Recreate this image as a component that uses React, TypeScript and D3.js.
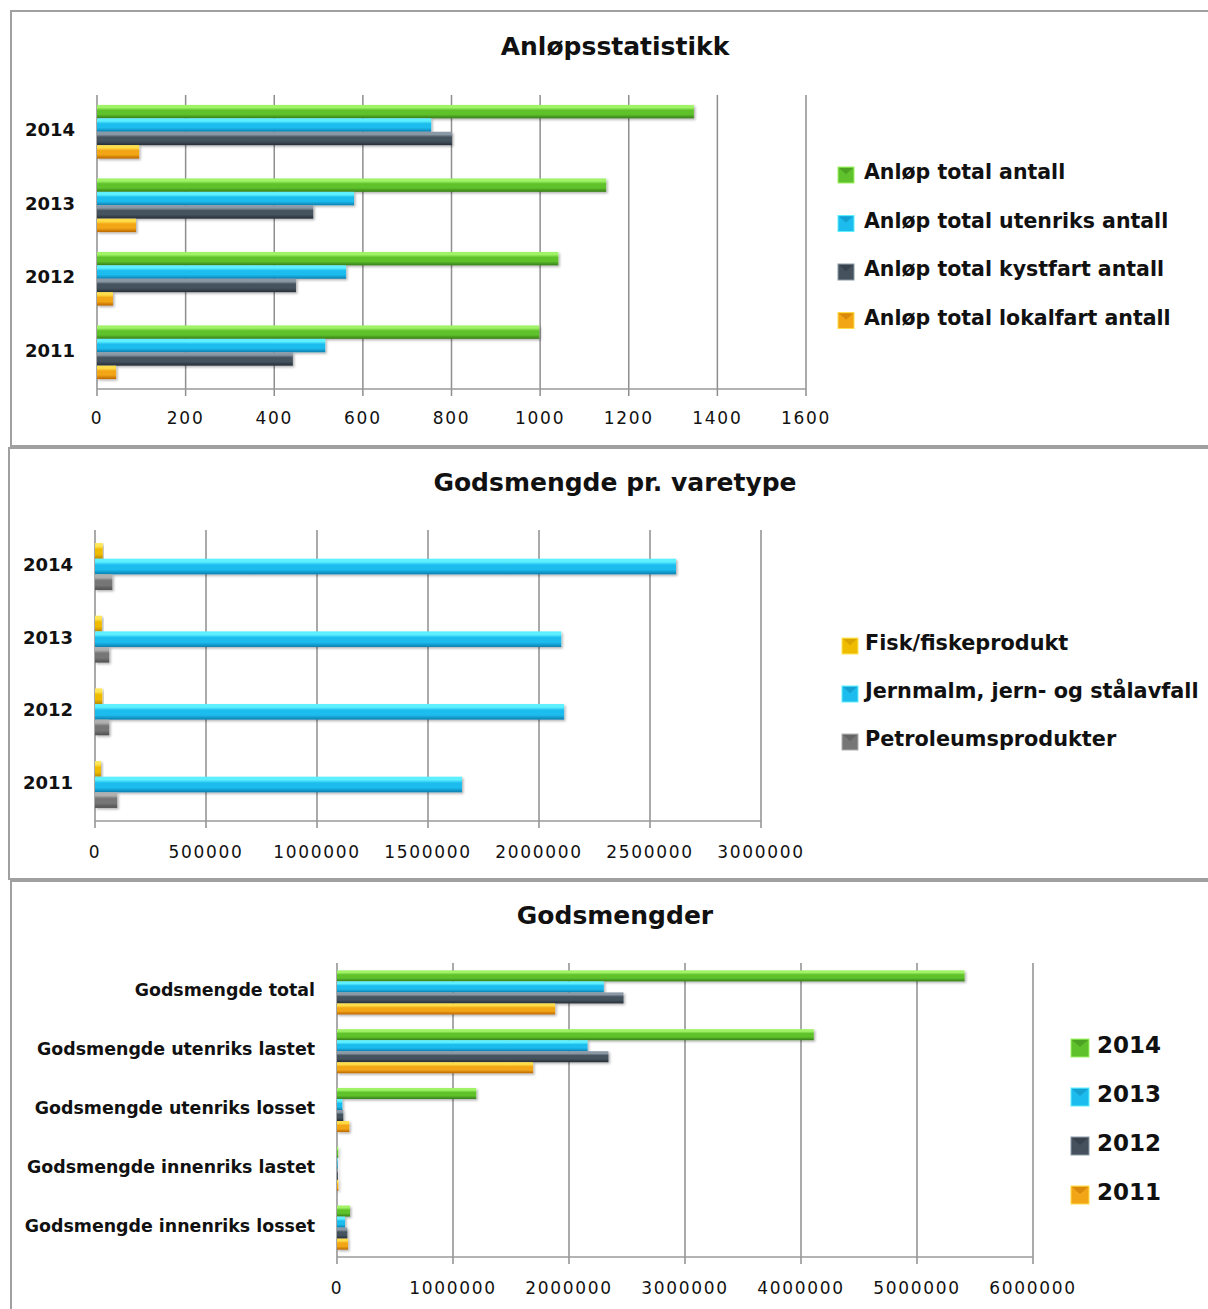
import React, { useEffect, useRef } from 'react';
import * as d3 from 'd3';

const years = ['2014', '2013', '2012', '2011'];

// Anløpsstatistikk
const anlopSeries = [
  'Anløp total antall',
  'Anløp total utenriks antall',
  'Anløp total kystfart antall',
  'Anløp total lokalfart antall',
];
const anlopTotal = [1347, 1149, 1041, 998];
const anlopUtenriks = [754, 580, 562, 515];
const anlopKystfart = [801, 488, 449, 442];
const anlopLokalfart = [95, 88, 36, 43];
const anlopTicks = [0, 200, 400, 600, 800, 1000, 1200, 1400, 1600];

// Godsmengde pr. varetype
const vareSeries = ['Fisk/fiskeprodukt', 'Jernmalm, jern- og stålavfall', 'Petroleumsprodukter'];
const fisk = [35000, 31000, 33000, 27000];
const jernmalm = [2617000, 2100000, 2113000, 1653000];
const petroleum = [78000, 64000, 64000, 100000];
const vareTicks = [0, 500000, 1000000, 1500000, 2000000, 2500000, 3000000];

// Godsmengder
const godsCategories = [
  'Godsmengde total',
  'Godsmengde utenriks lastet',
  'Godsmengde utenriks losset',
  'Godsmengde innenriks lastet',
  'Godsmengde innenriks losset',
];
const godsSeries = ['2014', '2013', '2012', '2011'];
const gods2014 = [5410000, 4110000, 1200000, 11000, 112000];
const gods2013 = [2300000, 2160000, 46000, 6000, 69000];
const gods2012 = [2470000, 2340000, 54000, 8000, 89000];
const gods2011 = [1880000, 1690000, 106000, 12000, 95000];
const godsTicks = [0, 1000000, 2000000, 3000000, 4000000, 5000000, 6000000];

// light / base / dark
const palette = {
  green: ['#a0f266', '#5fc22c', '#367d18'],
  blue: ['#5ef0ff', '#1cbdee', '#0a7fb0'],
  slate: ['#8a99a5', '#45525e', '#252e37'],
  orange: ['#ffdc48', '#f2a616', '#bb6600'],
  yellow: ['#ffe658', '#f0bc00', '#bc8a00'],
  gray: ['#b0b0b0', '#767676', '#505050'],
};

const FONT = "'DejaVu Sans', Verdana, sans-serif";

const drawChart = (svg, c) => {
  const g = svg.append('g');
  const max = c.ticks[c.ticks.length - 1];
  const x = d3.scaleLinear().domain([0, max]).range(c.xRange);
  const y0 = d3.scaleBand().domain(c.categories).range(c.yRange)
    .paddingInner(c.padIn).paddingOuter(c.padOut);
  const y1 = d3.scaleBand().domain(c.series).range([0, y0.bandwidth()]);
  const bottom = c.yRange[1];

  // title
  g.append('text')
    .attr('x', 615).attr('y', c.titleY)
    .attr('text-anchor', 'middle').attr('dominant-baseline', 'central')
    .attr('font-family', FONT).attr('font-weight', 'bold').attr('font-size', 25)
    .attr('fill', '#111').text(c.title);

  // grid + ticks
  g.selectAll('line.grid').data(c.ticks).join('line')
    .attr('x1', d => x(d)).attr('x2', d => x(d))
    .attr('y1', c.yRange[0]).attr('y2', bottom + 7)
    .attr('stroke', '#8e8e8e').attr('stroke-width', 1.5);
  g.append('line')
    .attr('x1', x(0)).attr('x2', x(max)).attr('y1', bottom).attr('y2', bottom)
    .attr('stroke', '#9a9a9a').attr('stroke-width', 1.5);

  g.selectAll('text.tick').data(c.ticks).join('text')
    .attr('x', d => x(d)).attr('y', c.tickY)
    .attr('text-anchor', 'middle').attr('dominant-baseline', 'central')
    .attr('font-family', FONT).attr('font-size', 17).attr('letter-spacing', 1.7)
    .attr('fill', '#111').text(d => String(d));

  // category labels
  g.selectAll('text.cat').data(c.categories).join('text')
    .attr('x', c.labelX).attr('y', d => y0(d) + y0.bandwidth() / 2 - 2)
    .attr('text-anchor', 'end').attr('dominant-baseline', 'central')
    .attr('font-family', FONT).attr('font-weight', 'bold').attr('font-size', c.labelSize)
    .attr('fill', '#111').text(d => d);

  // bars
  c.series.forEach((s, i) => {
    const col = c.colors[i];
    g.append('g').attr('filter', 'url(#shadow)')
      .selectAll('rect').data(c.values[i]).join('rect')
      .attr('x', x(0))
      .attr('y', (d, j) => y0(c.categories[j]) + y1(s))
      .attr('width', d => Math.max(0, x(d) - x(0)))
      .attr('height', y1.bandwidth())
      .attr('fill', `url(#grad-${col})`);
  });

  // legend
  const L = c.legend;
  c.series.forEach((s, i) => {
    const col = palette[c.colors[i]];
    const base = L.y + i * L.step;
    const mx = L.x, my = base - L.size + 4;
    const lg = g.append('g');
    lg.append('rect').attr('x', mx).attr('y', my).attr('width', L.size).attr('height', L.size)
      .attr('fill', col[1]).attr('stroke', col[0]).attr('stroke-width', 1);
    lg.append('path')
      .attr('d', `M${mx + 1},${my + 1}L${mx + L.size / 2},${my + L.size * 0.45}L${mx + L.size - 1},${my + 1}Z`)
      .attr('fill', col[2]).attr('opacity', 0.45);
    lg.append('text').attr('x', L.textX).attr('y', base)
      .attr('font-family', FONT).attr('font-weight', 'bold').attr('font-size', L.fontSize)
      .attr('fill', '#111').text(s);
  });
};

const App = () => {
  const ref = useRef(null);

  useEffect(() => {
    const svg = d3.select(ref.current);
    svg.selectAll('*').remove();

    const defs = svg.append('defs');
    Object.entries(palette).forEach(([key, [light, base, dark]]) => {
      const grad = defs.append('linearGradient').attr('id', `grad-${key}`)
        .attr('x1', 0).attr('y1', 0).attr('x2', 0).attr('y2', 1);
      grad.append('stop').attr('offset', '0%').attr('stop-color', light);
      grad.append('stop').attr('offset', '20%').attr('stop-color', light);
      grad.append('stop').attr('offset', '40%').attr('stop-color', base);
      grad.append('stop').attr('offset', '70%').attr('stop-color', base);
      grad.append('stop').attr('offset', '100%').attr('stop-color', dark);
    });
    defs.append('filter').attr('id', 'shadow')
      .attr('x', '-5%').attr('y', '-30%').attr('width', '120%').attr('height', '180%')
      .append('feDropShadow')
      .attr('dx', 1.5).attr('dy', 1.5).attr('stdDeviation', 1.2)
      .attr('flood-color', '#000').attr('flood-opacity', 0.3);

    // panel frames
    const frames = [
      [11, 11, 1230, 435],
      [9, 448, 1230, 431],
      [11, 881, 1230, 460],
    ];
    svg.selectAll('rect.frame').data(frames).join('rect')
      .attr('x', d => d[0]).attr('y', d => d[1]).attr('width', d => d[2]).attr('height', d => d[3])
      .attr('fill', 'white').attr('stroke', '#a0a0a0').attr('stroke-width', 2);

    drawChart(svg, {
      title: 'Anløpsstatistikk', titleY: 46,
      categories: years, series: anlopSeries,
      values: [anlopTotal, anlopUtenriks, anlopKystfart, anlopLokalfart],
      colors: ['green', 'blue', 'slate', 'orange'],
      ticks: anlopTicks, xRange: [97, 806], yRange: [95, 389],
      padIn: 0.27, padOut: 0.135, labelX: 75, labelSize: 18, tickY: 418,
      legend: { x: 838, textX: 864, y: 179, step: 48.5, size: 16, fontSize: 20.5 },
    });

    drawChart(svg, {
      title: 'Godsmengde pr. varetype', titleY: 482,
      categories: years, series: vareSeries,
      values: [fisk, jernmalm, petroleum],
      colors: ['yellow', 'blue', 'gray'],
      ticks: vareTicks, xRange: [95, 761], yRange: [530, 821],
      padIn: 0.355, padOut: 0.18, labelX: 73, labelSize: 18, tickY: 852,
      legend: { x: 842, textX: 865, y: 650, step: 48, size: 16, fontSize: 20.8 },
    });

    drawChart(svg, {
      title: 'Godsmengder', titleY: 915,
      categories: godsCategories, series: godsSeries,
      values: [gods2014, gods2013, gods2012, gods2011],
      colors: ['green', 'blue', 'slate', 'orange'],
      ticks: godsTicks, xRange: [337, 1033], yRange: [963, 1257],
      padIn: 0.25, padOut: 0.125, labelX: 315, labelSize: 17.4, tickY: 1288,
      legend: { x: 1071, textX: 1097, y: 1053, step: 49, size: 18, fontSize: 23 },
    });
  }, []);

  return (
    <svg ref={ref} width={1208} height={1309}
      style={{ position: 'absolute', left: 0, top: 0, background: 'white' }} />
  );
};

export default App;
